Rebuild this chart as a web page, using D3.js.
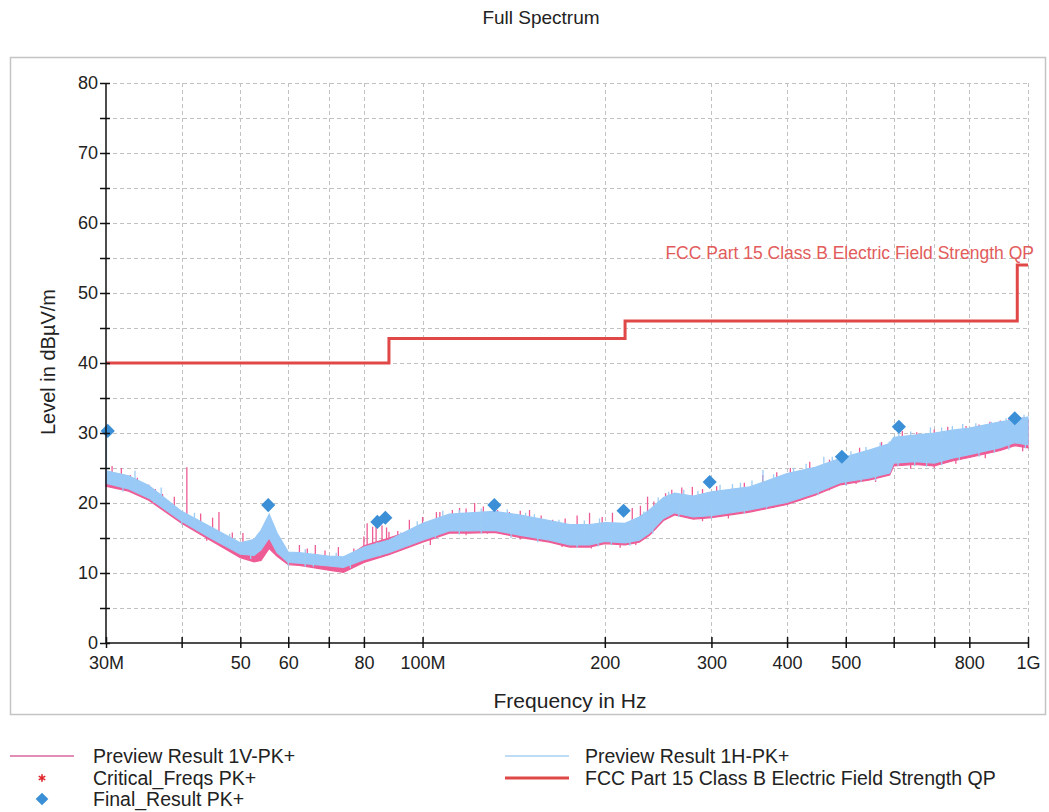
<!DOCTYPE html>
<html>
<head>
<meta charset="utf-8">
<script src="https://cdn.jsdelivr.net/npm/d3@7"></script>
<style>
  html, body { margin: 0; padding: 0; background: #fff; }
  svg text { font-family: "Liberation Sans", Arial, sans-serif; fill: #222; }
</style>
</head>
<body>
<svg id="chart" width="1049" height="812"></svg>
<script>
// Frequency grid (MHz) on which both preview scans are described
const scanFreq = [30, 32.7, 35.3, 40, 44.4, 50, 52.7, 54.1, 55.8, 57.5, 60, 62.6, 70, 74, 80, 88, 100, 110.7, 119.5, 131.4, 144.5, 162, 175, 188.7, 200, 216, 228, 237, 250, 260.8, 280, 300, 347, 400, 445, 490, 548, 591, 600, 650, 700, 750, 800, 900, 951, 1000];

// ---- Preview Result 1H-PK+ : band of the horizontal scan (dBµV/m)
const hLow  = [22.8, 22.0, 20.7, 17.4, 15.1, 12.7, 12.5, 13.3, 15.0, 12.9, 11.5, 11.4, 11.0, 10.8, 11.9, 12.9, 14.7, 16.0, 16.0, 16.1, 15.4, 14.7, 14.0, 14.0, 14.5, 14.3, 14.7, 15.7, 17.8, 18.6, 18.0, 18.2, 19.0, 20.1, 21.4, 22.9, 23.6, 24.3, 25.7, 25.9, 25.7, 26.4, 26.9, 27.9, 28.6, 28.3];
const hHigh = [24.6, 23.9, 22.5, 18.8, 16.7, 14.3, 14.8, 16.1, 18.4, 15.7, 13.0, 12.9, 12.4, 12.3, 13.7, 14.7, 17.1, 18.4, 18.6, 18.8, 18.3, 17.5, 16.9, 16.9, 17.2, 17.1, 18.0, 19.0, 20.8, 21.4, 21.0, 21.6, 22.3, 24.2, 25.1, 26.4, 27.6, 28.5, 29.4, 29.7, 30.0, 30.4, 30.7, 31.6, 31.9, 32.3];
// isolated peaks and dips of the horizontal scan
const hPeakFreq  = [30.05, 33.5, 37, 42, 48, 64, 72, 84, 92, 98, 108, 115, 125, 131.6, 138, 148, 153, 168, 185, 196, 222, 232, 245, 255, 270, 285, 310, 325, 335, 350, 365, 380, 410, 430, 460, 475, 510, 540, 570, 590, 612, 640, 690, 720, 750, 780, 820, 840, 870, 920, 962, 985];
const hPeakLevel = [30.0, 24.6, 22.2, 18.6, 15.6, 13.4, 12.9, 14.4, 15.8, 17.4, 18.9, 19.0, 19.2, 19.6, 19.1, 18.6, 18.4, 17.6, 17.5, 17.8, 17.7, 18.8, 20.8, 21.6, 21.9, 21.7, 22.6, 22.7, 22.9, 23.2, 24.7, 24.1, 25.0, 25.6, 26.6, 26.6, 27.4, 28.0, 28.6, 28.8, 30.6, 30.2, 30.8, 30.8, 31.0, 31.3, 31.4, 31.0, 31.6, 32.1, 31.8, 32.6];
const hDipFreq   = [32, 36, 40, 46, 52, 60, 64, 66, 76, 85, 95, 105, 115, 125, 140, 155, 180, 195, 205, 220, 240, 265, 300, 340, 370, 420, 450, 500, 530, 560, 610, 650, 680, 720, 770, 830, 880, 930, 990];
const hDipLevel  = [21.6, 20.0, 16.9, 14.4, 12.0, 11.0, 10.9, 10.9, 10.7, 12.4, 13.9, 15.0, 15.5, 15.6, 15.0, 14.4, 13.6, 13.8, 14.0, 13.9, 15.6, 18.0, 17.8, 18.5, 19.2, 20.6, 21.1, 22.5, 23.0, 23.2, 25.3, 25.3, 25.2, 25.4, 26.1, 26.6, 27.2, 27.6, 27.8];

// ---- Preview Result 1V-PK+ : band of the vertical scan
const vLow  = [22.4, 21.7, 20.4, 17.1, 14.8, 12.2, 11.6, 11.8, 13.5, 12.4, 11.2, 11.1, 10.4, 10.1, 11.5, 12.6, 14.4, 15.7, 15.7, 15.8, 15.1, 14.4, 13.7, 13.7, 14.2, 14.0, 14.4, 15.4, 17.5, 18.3, 17.7, 17.9, 18.7, 19.8, 21.1, 22.6, 23.3, 24.0, 25.3, 25.5, 25.3, 26.0, 26.5, 27.5, 28.2, 27.9];
const vHigh = [24.2, 23.5, 22.0, 18.3, 16.2, 13.8, 13.6, 14.5, 16.0, 14.8, 12.6, 12.4, 12.0, 11.9, 13.9, 15.0, 16.6, 17.9, 18.1, 18.3, 17.8, 17.0, 16.4, 16.4, 16.7, 16.6, 17.5, 18.5, 20.3, 20.9, 20.5, 21.1, 21.8, 23.7, 24.6, 25.9, 27.1, 28.0, 28.9, 29.2, 29.5, 29.9, 30.2, 31.1, 31.4, 31.8];
// isolated peaks and dips of the vertical scan
const vPeakFreq  = [30.7, 31.8, 32.9, 33.8, 35.3, 36.2, 37.2, 38.9, 40.8, 43.0, 45, 46.1, 48.5, 50.5, 62.6, 64.5, 66.5, 69, 72.6, 77, 80, 81, 82.7, 83.8, 85.7, 87.2, 88, 91, 95.1, 100, 105.4, 106.8, 112, 115.1, 118, 121.9, 126, 133, 139.1, 145, 150.2, 157, 164, 172, 180, 188.7, 198, 205.9, 222, 229, 235.3, 241, 252, 258, 268, 279, 290, 306, 325, 340, 364.6, 384.6, 405, 436, 470, 500, 527, 573, 620, 655, 700, 737, 790, 830, 865, 900, 930, 980];
const vPeakLevel = [25.3, 25.0, 24.0, 23.6, 22.6, 22.0, 21.3, 20.9, 25.1, 18.5, 17.9, 18.7, 15.8, 15.7, 14.0, 13.5, 14.0, 13.2, 13.7, 13.5, 15.2, 17.1, 16.6, 17.0, 16.8, 16.5, 15.9, 16.0, 17.6, 18.0, 18.7, 18.7, 19.0, 19.3, 19.2, 20.0, 19.5, 19.0, 18.7, 18.9, 19.0, 18.2, 17.6, 17.8, 18.2, 18.6, 18.0, 18.6, 19.3, 19.6, 20.9, 20.2, 21.4, 21.9, 22.2, 22.3, 22.0, 22.4, 22.1, 22.9, 24.0, 24.4, 25.0, 25.9, 26.2, 26.9, 27.9, 28.7, 30.3, 30.1, 30.5, 30.9, 31.0, 31.2, 31.6, 31.8, 32.0, 32.2];
const vDipFreq   = [44, 46.5, 48, 103, 118, 128, 145, 170, 190, 212, 225, 290, 320, 380, 420, 470, 520, 560, 640, 700, 760, 850, 980];
const vDipLevel  = [14.6, 14.3, 13.5, 14.0, 15.4, 15.6, 14.8, 13.7, 13.5, 13.6, 14.0, 17.4, 17.8, 19.3, 20.3, 21.8, 22.7, 23.0, 24.9, 25.0, 25.6, 26.4, 27.4];

// ---- Final_Result PK+
const finalFreq  = [30.2, 55.6, 84.2, 86.8, 131.4, 214.8, 298, 492.7, 612, 951];
const finalLevel = [30.3, 19.7, 17.3, 17.9, 19.7, 18.9, 23.0, 26.6, 30.9, 32.1];

// ---- FCC Part 15 Class B Electric Field Strength QP limit (step line)
const limitFreq  = [30, 88, 88, 216, 216, 960, 960, 1000];
const limitLevel = [40, 40, 43.5, 43.5, 46, 46, 54, 54];

// ---- axes
const xTickValues = [30, 40, 50, 60, 70, 80, 100, 200, 300, 400, 500, 600, 700, 800, 1000];
const xTickLabels = ["30M", "", "50", "60", "", "80", "100M", "200", "300", "400", "500", "", "", "800", "1G"];
const yTickValues = [0, 5, 10, 15, 20, 25, 30, 35, 40, 45, 50, 55, 60, 65, 70, 75, 80];

const legendItems = [
  { label: "Preview Result 1V-PK+", kind: "line", color: "#d9679c", width: 1.5, col: 0, row: 0 },
  { label: "Critical_Freqs PK+", kind: "asterisk", color: "#e0262b", col: 0, row: 1 },
  { label: "Final_Result PK+", kind: "diamond", color: "#3b8fd6", col: 0, row: 2 },
  { label: "Preview Result 1H-PK+", kind: "line", color: "#a8d0f2", width: 1.5, col: 1, row: 0 },
  { label: "FCC Part 15 Class B Electric Field Strength QP", kind: "line", color: "#e04848", width: 3, col: 1, row: 1 }
];

const PINK = "#ee5c95", BLUE = "#99c9f6";
const svg = d3.select("#chart");
const plot = { left: 106, right: 1028, top: 83, bottom: 643 };

const x = d3.scaleLog().domain([30, 1000]).range([plot.left, plot.right]);
const y = d3.scaleLinear().domain([0, 80]).range([plot.bottom, plot.top]);
const lg = f => Math.log10(f);

// title
svg.append("text").attr("x", 541).attr("y", 24).attr("text-anchor", "middle")
  .style("font-size", "19px").text("Full Spectrum");

// outer frame
svg.append("rect").attr("x", 10.5).attr("y", 57.5).attr("width", 1035).attr("height", 657)
  .attr("fill", "none").attr("stroke", "#c4c4c4").attr("stroke-width", 1.5);

// grid
const grid = svg.append("g").attr("stroke", "#c2c2c2").attr("stroke-width", 1).attr("stroke-dasharray", "4,3");
grid.selectAll("line.h").data(yTickValues.filter(v => v > 0)).join("line").attr("class", "h")
  .attr("x1", plot.left).attr("x2", plot.right)
  .attr("y1", d => Math.round(y(d)) + 0.5).attr("y2", d => Math.round(y(d)) + 0.5);
grid.selectAll("line.v").data(xTickValues.slice(1)).join("line").attr("class", "v")
  .attr("x1", d => Math.round(x(d)) + 0.5).attr("x2", d => Math.round(x(d)) + 0.5)
  .attr("y1", plot.top).attr("y2", plot.bottom);

// limit line
const limitLine = d3.line().x((d, i) => x(limitFreq[i])).y(d => y(d));
svg.append("path").datum(limitLevel).attr("d", limitLine)
  .attr("fill", "none").attr("stroke", "#e04848").attr("stroke-width", 3);

// draws one scan: band + isolated peaks/dips as thin vertical strokes
function drawScan(low, high, peakF, peakL, dipF, dipL, color, strokeColor) {
  const g = svg.append("g");
  const band = d3.area().x((d, i) => x(scanFreq[i])).y0((d, i) => y(low[i])).y1(d => y(d));
  g.append("path").datum(high).attr("d", band)
    .attr("fill", color).attr("stroke", color).attr("stroke-width", 1.2);
  const top = d3.scaleLinear().domain(scanFreq.map(lg)).range(high);
  const bot = d3.scaleLinear().domain(scanFreq.map(lg)).range(low);
  g.append("g").attr("stroke", strokeColor).attr("stroke-width", 1.3)
    .selectAll("line").data(peakF).join("line")
    .attr("x1", d => x(d)).attr("x2", d => x(d))
    .attr("y1", (d, i) => y(peakL[i])).attr("y2", d => y(top(lg(d)) - 1));
  g.append("g").attr("stroke", strokeColor).attr("stroke-width", 1.3)
    .selectAll("line").data(dipF).join("line")
    .attr("x1", d => x(d)).attr("x2", d => x(d))
    .attr("y1", (d, i) => y(dipL[i])).attr("y2", d => y(bot(lg(d)) + 1));
}
drawScan(vLow, vHigh, vPeakFreq, vPeakLevel, vDipFreq, vDipLevel, PINK, PINK);
drawScan(hLow, hHigh, hPeakFreq, hPeakLevel, hDipFreq, hDipLevel, BLUE, "#9dcbf4");

// final results
const diamond = d3.symbol().type(d3.symbolSquare).size(100);
svg.append("g").selectAll("path").data(finalFreq).join("path")
  .attr("d", diamond)
  .attr("transform", (d, i) => `translate(${x(d)},${y(finalLevel[i])}) rotate(45)`)
  .attr("fill", "#3b8fd6");

// limit label
svg.append("text").attr("x", 1034).attr("y", 259).attr("text-anchor", "end")
  .style("font-size", "17.5px").style("fill", "#e25c5c")
  .text("FCC Part 15 Class B Electric Field Strength QP");

// y axis
const yAxis = svg.append("g").attr("transform", `translate(${plot.left},0)`)
  .call(d3.axisLeft(y).tickValues(yTickValues).tickSize(6).tickPadding(2)
    .tickFormat(d => d % 10 === 0 ? d : ""));
yAxis.selectAll(".tick line").attr("x2", -6).attr("x1", 4).attr("stroke", "#111").attr("stroke-width", 1.5);
yAxis.select(".domain").attr("d", `M0,${plot.top}V${plot.bottom}`).attr("stroke", "#111").attr("stroke-width", 1.5);
yAxis.selectAll(".tick text").style("font-size", "18px").attr("fill", "#222").attr("font-family", null);

// x axis
const xAxis = svg.append("g").attr("transform", `translate(0,${plot.bottom})`)
  .call(d3.axisBottom(x).tickValues(xTickValues).tickSize(5).tickPadding(8)
    .tickFormat((d, i) => xTickLabels[i]));
xAxis.selectAll(".tick line").attr("y1", -6).attr("y2", 5).attr("stroke", "#111").attr("stroke-width", 1.5);
xAxis.select(".domain").attr("d", `M${plot.left},0H${plot.right}`).attr("stroke", "#111").attr("stroke-width", 1.5);
xAxis.selectAll(".tick text").style("font-size", "18px").attr("fill", "#222").attr("font-family", null);

// axis titles
svg.append("text").attr("x", 570).attr("y", 708).attr("text-anchor", "middle")
  .style("font-size", "21px").text("Frequency in Hz");
svg.append("text").attr("transform", "translate(55,362) rotate(-90)").attr("text-anchor", "middle")
  .style("font-size", "20px").text("Level in dBµV/m");

// legend
const colX = [10, 505], textX = [93, 585], rowY = [756, 778, 799];
const leg = svg.append("g");
legendItems.forEach(it => {
  const cy = rowY[it.row];
  if (it.kind === "line") {
    leg.append("line").attr("x1", colX[it.col]).attr("x2", colX[it.col] + 64)
      .attr("y1", cy).attr("y2", cy).attr("stroke", it.color).attr("stroke-width", it.width);
  } else if (it.kind === "asterisk") {
    leg.append("path").attr("d", d3.symbol().type(d3.symbolAsterisk).size(40)())
      .attr("transform", `translate(42,${cy})`).attr("stroke", it.color).attr("stroke-width", 1.6).attr("fill", "none");
  } else {
    leg.append("path").attr("d", d3.symbol().type(d3.symbolSquare).size(80)())
      .attr("transform", `translate(42,${cy}) rotate(45)`).attr("fill", it.color);
  }
  leg.append("text").attr("x", textX[it.col]).attr("y", cy + 7)
    .style("font-size", "19.5px").text(it.label);
});
</script>
</body>
</html>
